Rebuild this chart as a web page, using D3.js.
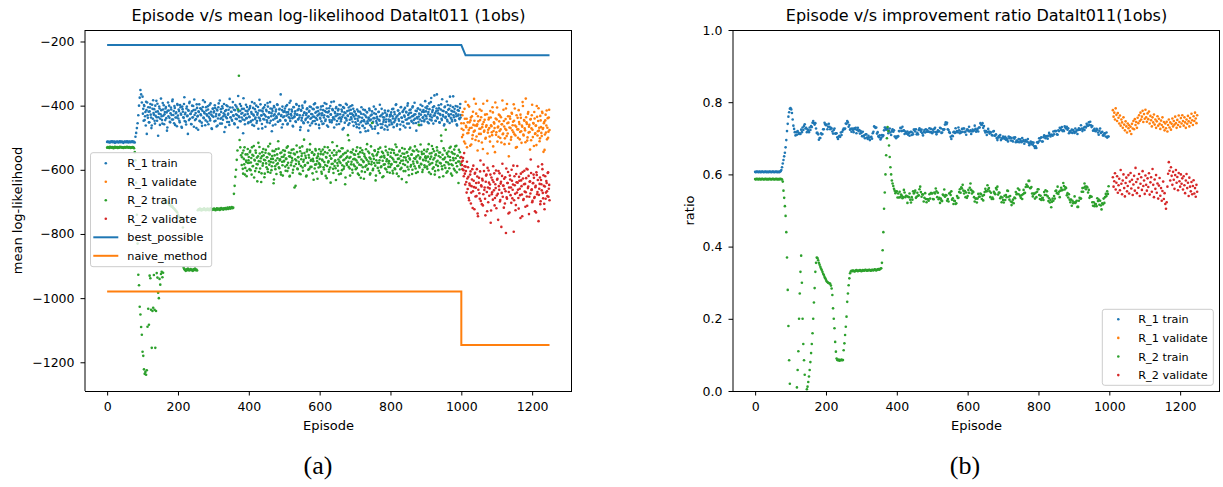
<!DOCTYPE html>
<html><head><meta charset="utf-8">
<script src="https://cdn.jsdelivr.net/npm/d3@7"></script>
<style>
body{margin:0;background:#fff}
svg{display:block}
</style>
</head><body>
<svg id="c" width="1223" height="487"></svg>
<script>
// ---------------- DATA ----------------
const EP_STEP = 2;
const xTicks = [0, 200, 400, 600, 800, 1000, 1200];
const yTicksA = [-1200, -1000, -800, -600, -400, -200];
const yTicksB = [0, 0.2, 0.4, 0.6, 0.8, 1.0];
const seriesNames = ["R_1 train", "R_1 validate", "R_2 train", "R_2 validate"];
const lineNames = ["best_possible", "naive_method"];
const titleA = "Episode v/s mean log-likelihood DataIt011 (1obs)";
const titleB = "Episode v/s improvement ratio DataIt011(1obs)";

// (a) mean log-likelihood. Even episodes from the start, odd episodes in separate arrays.
const trainStartA = 0, validStartA = 1000;
const r1TrainA = [
-513,-512,-514,-513,-515,-512,-513,-511,-514,-513,-512,-516,-513,-514,-512,-513,-515,-513,-511,-514,-513,-512,-514,-516,-513,-512,-513,-514,-511,-513,-515,-512,-513,-514,-512,-513,-511,-514,-513,-515,
-497,-485,-470,-455,-430,-400,-375,-351,-365,-390,
-372,-410,-398,-445,-420,-388,-488,-430,-405,-452,-418,-395,-437,-462,-410,-383,-428,-447,-400,-419,-436,-394,-494,-425,-409,-441,-378,-433,-456,-412,-399,-427,-445,-404,-421,-468,-390,-415,-438,-452,-406,-429,-386,-443,-417,-401,-460,-424,-437,-395,
-431,-412,-447,-398,-425,-466,-403,-419,-438,-374,-427,-450,-409,-433,-488,-416,-392,-441,-425,-458,-400,-436,-414,-381,-445,-423,-470,-407,-432,-418,-396,-449,-427,-411,-463,-404,-437,-420,-389,-446,-415,-431,-402,-458,-424,-440,-393,-428,-473,-410,
-435,-418,-399,-447,-426,-412,-462,-405,-430,-384,-441,-420,-456,-408,-433,-395,-428,-467,-414,-439,-402,-425,-451,-379,-436,-419,-444,-406,-430,-413,-458,-398,-427,-442,-409,-370,-433,-448,-416,-401,-437,-423,-486,-410,-445,-428,-397,-439,-418,-455,
-412,-436,-401,-448,-425,-460,-407,-431,-393,-442,-419,-454,-428,-404,-437,-382,-446,-415,-430,-471,-409,-426,-443,-398,-434,-417,-452,-403,-438,-421,-389,-447,-424,-410,-462,-431,-405,-440,-418,-433,-396,-450,-427,-412,-445,-365,-429,-414,-458,-420,
-433,-409,-447,-421,-398,-456,-427,-412,-440,-385,-431,-418,-463,-404,-436,-425,-449,-395,-428,-414,-442,-401,-430,-467,-416,-438,-407,-452,-423,-390,-445,-429,-411,-437,-478,-419,-403,-441,-426,-455,-410,-434,-396,-448,-422,-439,-406,-431,-417,-460,
-425,-441,-403,-430,-457,-414,-437,-392,-448,-420,-409,-433,-466,-418,-445,-401,-428,-452,-411,-436,-387,-443,-424,-408,-459,-430,-415,-440,-398,-427,-449,-412,-435,-404,-470,-421,-438,-394,-446,-417,-432,-406,-455,-425,-413,-442,-399,-429,-463,-418,
-441,-426,-458,-412,-447,-433,-470,-419,-452,-405,-438,-463,-427,-449,-414,-480,-436,-421,-455,-442,-409,-446,-431,-466,-418,-453,-439,-424,-472,-411,-448,-435,-460,-420,-444,-397,-457,-430,-468,-425,-451,-437,-415,-462,-443,-428,-475,-416,-449,-434,
-446,-421,-458,-433,-410,-452,-427,-440,-396,-463,-431,-415,-447,-424,-459,-404,-438,-420,-451,-412,-435,-468,-419,-443,-400,-429,-456,-414,-437,-422,-450,-406,-432,-445,-391,-427,-454,-417,-440,-409,-434,-461,-413,-428,-448,-401,-436,-420,-444,-386,
-418,-440,-402,-427,-455,-411,-433,-389,-446,-420,-405,-431,-368,-424,-448,-409,-436,-415,-399,-452,-426,-412,-441,-380,-429,-417,-458,-403,-435,-421,-444,-398,-427,-410,-372,-438,-416,-449,-404,-430,-419,-445,-401,-433,-462,-414,-428,-440,-407,-437
];
const r1TrainAOddStart = 101;
const r1TrainAOdd = [
-425,-447,-401,-433,-462,-414,-390,-438,-419,-452,-406,-428,-470,-397,-441,-423,-411,-456,-432,-385,-447,-418,-436,-403,-460,-427,-414,-445,-392,-431,-458,-420,-409,-439,-478,-416,-433,-400,-450,-424,-412,-443,-381,-429,-455,-407,-437,-421,-464,-398,
-440,-417,-452,-405,-428,-469,-411,-436,-395,-448,-422,-459,-403,-431,-414,-445,-388,-426,-457,-418,-437,-401,-466,-429,-413,-442,-396,-434,-475,-420,-447,-408,-430,-453,-416,-383,-439,-424,-461,-405,-427,-450,-412,-435,-398,-446,-419,-471,-432,-409,
-421,-449,-407,-433,-465,-415,-440,-393,-427,-456,-411,-438,-402,-444,-424,-482,-417,-435,-399,-451,-428,-413,-460,-406,-437,-420,-447,-389,-432,-455,-414,-441,-403,-429,-468,-418,-436,-395,-449,-425,-410,-443,-377,-431,-458,-416,-439,-404,-426,-452,
-434,-407,-451,-420,-389,-445,-428,-463,-411,-437,-400,-448,-423,-472,-415,-440,-396,-431,-457,-418,-442,-405,-429,-466,-413,-446,-392,-436,-421,-454,-409,-433,-480,-417,-444,-401,-427,-459,-412,-438,-398,-450,-425,-410,-447,-432,-468,-403,-436,-419,
-417,-445,-402,-431,-459,-420,-436,-391,-448,-426,-412,-439,-465,-405,-433,-418,-451,-397,-428,-443,-410,-437,-476,-414,-446,-400,-430,-455,-421,-387,-441,-424,-408,-452,-433,-416,-462,-404,-438,-427,-449,-411,-435,-393,-457,-419,-444,-406,-428,-470,
-438,-412,-449,-424,-401,-456,-430,-417,-443,-395,-462,-421,-435,-408,-451,-427,-389,-446,-414,-439,-468,-420,-433,-404,-448,-426,-411,-457,-437,-399,-442,-418,-474,-429,-407,-453,-423,-440,-397,-431,-460,-415,-444,-402,-436,-425,-450,-410,-434,-419,
-452,-430,-467,-441,-418,-459,-436,-483,-425,-448,-463,-412,-445,-470,-431,-456,-420,-449,-478,-437,-414,-461,-443,-428,-472,-450,-403,-439,-465,-426,-454,-441,-486,-419,-447,-433,-469,-410,-458,-436,-445,-474,-422,-451,-432,-466,-417,-443,-460,-429,
-428,-453,-411,-440,-467,-420,-446,-398,-435,-458,-415,-442,-426,-474,-405,-437,-450,-418,-463,-431,-407,-444,-421,-456,-393,-439,-424,-469,-412,-447,-433,-402,-455,-428,-441,-416,-478,-436,-409,-451,-425,-443,-397,-460,-419,-438,-414,-449,-430,-406,
-433,-409,-451,-420,-393,-443,-428,-376,-437,-414,-456,-402,-431,-447,-418,-365,-440,-424,-408,-453,-429,-396,-445,-416,-434,-462,-405,-438,-421,-387,-449,-413,-432,-454,-400,-427,-443,-418,-371,-436,-410,-447,-425,-458,-403,-431,-416,-442,-395,-429
];
const r1ValidA = [
-455,-498,-420,-476,-512,-441,-388,-467,-530,-452,-485,-403,-470,-446,-521,-433,-492,-460,-379,-478,
-507,-425,-463,-540,-449,-488,-412,-472,-436,-515,-458,-394,-481,-444,-503,-466,-427,-549,-475,-438,
-496,-417,-461,-483,-405,-527,-452,-470,-390,-491,-443,-512,-465,-428,-479,-501,-436,-458,-384,-487,
-448,-520,-472,-409,-495,-455,-433,-558,-468,-441,-506,-422,-477,-450,-396,-489,-462,-531,-430,-474,
-500,-414,-457,-482,-438,-516,-466,-401,-493,-447,-477,-378,-452,-509,-425,-484,-460,-537,-442,-471,
-397,-498,-456,-420,-488,-463,-523,-435,-480,-408,-469,-502,-446,-485,-419,-473,-544,-451,-490,-428,
-462,-505,-439,-481,-413
];
const r1ValidAOddStart = 1001;
const r1ValidAOdd = [
-472,-430,-491,-455,-410,-518,-463,-441,-486,-398,-476,-452,-525,-437,-469,-503,-419,-481,-447,-462,
-394,-496,-458,-433,-510,-472,-445,-488,-416,-467,-535,-451,-478,-428,-500,-461,-385,-484,-443,-470,
-512,-437,-464,-492,-421,-479,-456,-545,-440,-483,-406,-468,-497,-449,-431,-474,-515,-458,-489,-413,
-465,-502,-442,-476,-395,-487,-453,-519,-434,-470,-498,-425,-461,-483,-447,-409,-493,-466,-529,-438,
-474,-451,-505,-428,-480,-462,-389,-490,-445,-471,-514,-436,-457,-499,-420,-466,-482,-443,-508,-430,
-475,-454,-526,-440,-486,-462,-401,-493,-448,-478,-511,-432,-467,-495,-423,-470,-455,-538,-446,-484,
-415,-469,-500,-437,-476
];
const r2TrainA = [
-531,-529,-530,-532,-528,-530,-531,-529,-530,-533,-530,-528,-531,-530,-529,-532,-530,-531,-528,-530,-529,-531,-530,-532,-530,-529,-531,-530,-528,-530,-531,-529,-530,-532,-530,-531,-529,-530,-533,
-545,-570,-640,-740,-830,-927,-960,-1027,-1051,-1090,-1114,
-1167,-1180,-1222,-1236,-1230,-1239,-1225,-1089,-1033,-1083,-930,-938,-1036,-1155,-1040,-1030,-928,-1036,-1155,-1040,-922,-936,-983,-1000,-940,-958,-925,-918,-935,-921,
-705,-690,-700,-695,-698,-702,-700,-705,-710,-708,-712,-715,-713,-718,-720,-722,-725,-728,-730,-733,-740,-745,-748,-750,-752,-750,-755,-780,
-905,-910,-912,-915,-910,-913,-908,-912,-914,-911,-909,-913,-912,-915,-910,-912,-908,-913,-911,-914,
-726,-723,-725,-721,-724,-727,-722,-725,-723,-720,-724,-726,-722,-725,-721,-723,-726,-724,-720,-723,-725,-722,-724,-721,-723,-726,-722,-720,-724,-723,-721,-725,-722,-719,-723,-721,-724,-720,-722,-719,-723,-721,-718,-722,-720,-717,-721,-719,-716,-720,-718,
-675,-650,-622,-600,-569,-540,-413,-307,-507,-530,-555,
-585,-548,-612,-566,-530,-594,-571,-620,-552,-579,
-560,-598,-541,-577,-615,-553,-588,-526,-569,-604,-547,-582,-636,-558,-573,-529,-596,-564,-611,-545,-580,-555,-623,-570,-538,-592,-561,-607,-549,-584,-519,-576,-601,-557,-566,-642,-542,-589,-571,-613,-552,-580,-534,-595,-567,-608,-546,-575,-618,-559,
-572,-541,-603,-566,-585,-527,-594,-558,-619,-548,-577,-563,-609,-536,-589,-552,-650,-571,-545,-598,-560,-582,-531,-614,-567,-549,-593,-575,-506,-587,-556,-621,-543,-578,-600,-562,-538,-591,-569,-547,-611,-573,-554,-596,-535,-583,-563,-628,-550,-580,
-566,-590,-543,-612,-571,-552,-599,-529,-585,-560,-626,-548,-577,-606,-539,-593,-565,-582,-514,-597,-555,-588,-570,-632,-546,-579,-603,-541,-574,-561,-612,-533,-586,-552,-597,-568,-645,-547,-580,-559,-492,-591,-563,-618,-545,-575,-600,-537,-584,-566,
-553,-598,-571,-530,-612,-560,-584,-545,-625,-568,-539,-592,-576,-551,-607,-563,-586,-520,-597,-574,-548,-615,-566,-583,-454,-601,-557,-579,-541,-633,-570,-552,-594,-535,-578,-610,-561,-589,-544,-572,-620,-556,-583,-528,-599,-567,-546,-591,-573,-609,
-559,-584,-537,-603,-568,-548,-595,-521,-576,-612,-553,-587,-565,-540,-598,-572,-629,-549,-582,-561,-535,-604,-570,-546,-591,-557,-617,-564,-531,-585,-552,-600,-574,-542,-589,-566,-610,-538,-578,-555,-460,-593,-561,-581,-544,-607,-569,-550,-586,-562,
-571,-543,-597,-559,-520,-584,-566,-613,-548,-579,-535,-592,-563,-604,-552,-575,-540,-588,-557,-623,-546,-580,-510,-598,-567,-533,-586,-562,-475,-609,-551,-577,-543,-595,-560,-528,-583,-618,-549,-570,-537,-602,-564,-525,-589,-556,-641,-574,-545,-581
];
const r2TrainAOddStart = 381;
const r2TrainAOdd = [
-561,-597,-540,-583,-615,-552,-576,-603,-535,-570,
-578,-545,-601,-563,-530,-589,-556,-624,-571,-540,-595,-562,-583,-516,-607,-549,-574,-638,-558,-587,-535,-569,-612,-547,-580,-561,-598,-527,-573,-552,-609,-566,-589,-541,-577,-630,-555,-598,-536,-583,-564,-511,-592,-571,-548,-615,-560,-586,-539,-574,
-553,-590,-565,-531,-604,-578,-546,-621,-559,-586,-538,-571,-600,-549,-655,-567,-582,-524,-596,-561,-575,-612,-542,-588,-557,-527,-603,-569,-548,-585,-563,-618,-537,-579,-554,-597,-520,-572,-591,-545,-566,-631,-552,-584,-540,-606,-573,-558,-593,-536,
-584,-551,-606,-568,-537,-592,-576,-545,-619,-562,-588,-530,-573,-599,-556,-640,-565,-547,-581,-610,-539,-574,-595,-553,-526,-587,-568,-614,-542,-579,-558,-601,-533,-570,-590,-548,-624,-563,-585,-541,-575,-508,-596,-560,-583,-546,-609,-567,-552,-589,
-568,-541,-594,-577,-551,-616,-560,-532,-586,-605,-547,-573,-628,-558,-590,-536,-569,-600,-543,-581,-562,-611,-527,-575,-552,-597,-566,-539,-587,-618,-555,-578,-545,-603,-570,-531,-592,-559,-623,-548,-584,-562,-596,-540,-573,-607,-553,-580,-535,-591,
-547,-582,-563,-611,-539,-575,-598,-554,-529,-588,-566,-620,-543,-579,-557,-594,-532,-571,-604,-550,-585,-562,-639,-545,-576,-599,-536,-568,-590,-553,-613,-540,-581,-564,-527,-596,-559,-574,-607,-543,-588,-565,-521,-583,-551,-600,-570,-538,-592,-558,
-563,-590,-536,-575,-608,-549,-581,-559,-526,-597,-568,-542,-615,-555,-584,-530,-572,-601,-546,-578,-561,-493,-589,-553,-620,-567,-540,-594,-576,-548,-605,-558,-583,-532,-570,-612,-545,-586,-563,-597,-551,-527,-579,-608,-556,-574,-538,-599,-562,-585
];
const r2ValidA = [
-560,-585,-572,-601,-548,-612,-590,-638,-575,-660,-622,-695,-648,-605,-671,-630,-719,-587,-654,-612,
-683,-641,-598,-736,-662,-625,-690,-571,-648,-707,-633,-676,-604,-655,-742,-618,-669,-594,-701,-640,
-658,-615,-727,-676,-632,-589,-664,-711,-645,-602,-680,-628,-756,-651,-611,-694,-637,-672,-581,-649,
-718,-660,-623,-797,-686,-641,-607,-669,-733,-630,-655,-600,-689,-646,-793,-620,-675,-710,-639,-588,
-662,-721,-634,-679,-612,-651,-745,-627,-691,-603,-644,-670,-597,-712,-657,-619,-684,-636,-568,-663,
-701,-642,-615,-688,-729,-650,-608,-676,-632,-760,-659,-624,-698,-645,-583,-672,-617,-706,-652,-690,
-635,-667,-610,-684,-647
];
const r2ValidAOddStart = 1001;
const r2ValidAOdd = [
-575,-598,-563,-620,-589,-646,-604,-671,-627,-592,-688,-643,-615,-705,-651,-598,-667,-634,-723,-609,
-656,-682,-621,-745,-640,-673,-605,-697,-652,-628,-711,-584,-663,-690,-637,-615,-729,-655,-602,-681,
-646,-765,-624,-670,-693,-638,-611,-688,-657,-720,-631,-675,-604,-662,-699,-643,-778,-619,-684,-650,
-628,-705,-667,-596,-690,-641,-736,-655,-618,-679,-703,-634,-662,-587,-695,-648,-726,-613,-671,-640,
-688,-622,-659,-750,-633,-677,-607,-694,-645,-668,-715,-626,-683,-599,-652,-738,-637,-674,-610,-661,
-697,-641,-625,-685,-654,-733,-616,-669,-590,-678,-644,-707,-632,-664,-598,-689,-650,-723,-620,-671,
-641,-682,-608,-659,-695
];
const bestEp = [0, 1000, 1012, 1249];
const bestVals = [-211, -211, -243, -243];
const naiveEp = [0, 1000, 1000, 1249];
const naiveVals = [-979, -979, -1146, -1146];

// (b) improvement ratio, train from episode 0, validate from episode 1010, every 2 episodes
const trainStartB = 0, validStartB = 1010;
const r1TrainB = [
.607,.606,.608,.607,.607,.606,.608,.607,.606,.607,.608,.607,.606,.607,.607,.608,.606,.607,.607,.606,.608,.607,.607,.606,.607,.608,.607,.606,.607,.607,.608,.606,.607,.607,.606,.608,
.609,.612,.620,.630,.640,.650,.660,.675,.695,.720,.740,.760,.772,.782,
.784,.780,.770,.752,.735,.726,.717,.708,.717,.710,.720,.716,.712,.714,.712,.724,.717,.730,.723,.734,.739,.727,.729,.717,.725,
.722,.717,.730,.723,.734,.731,.743,.748,.742,.738,.742,.727,.715,.715,.711,.696,.701,.701,.714,.711,.712,.725,.725,.743,.739,
.736,.738,.725,.732,.740,.732,.725,.729,.727,.719,.713,.723,.727,.713,.713,.714,.703,.698,.705,.707,.704,.716,.709,.718,.723,
.727,.725,.727,.741,.740,.748,.744,.732,.737,.724,.726,.718,.727,.723,.717,.728,.725,.729,.714,.723,.729,.720,.723,.713,.720,
.715,.706,.718,.705,.708,.700,.711,.711,.702,.698,.707,.702,.695,.703,.704,.699,.714,.718,.733,.731,.729,.730,.713,.717,.706,
.703,.708,.697,.701,.709,.705,.708,.722,.730,.729,.724,.727,.726,.714,.721,.727,.716,.709,.720,.725,.718,.722,.705,.704,.700,
.705,.704,.706,.720,.720,.729,.728,.720,.732,.721,.722,.712,.719,.715,.713,.719,.710,.715,.707,.717,.718,.709,.716,.711,.724,
.724,.719,.725,.711,.715,.711,.723,.728,.723,.718,.724,.714,.708,.718,.723,.716,.725,.718,.723,.718,.719,.728,.717,.726,.717,
.714,.724,.718,.726,.729,.717,.711,.717,.722,.720,.719,.729,.728,.715,.716,.725,.723,.725,.738,.744,.739,.743,.725,.723,.717,
.715,.704,.698,.707,.706,.717,.718,.715,.728,.717,.720,.717,.730,.722,.714,.719,.716,.726,.718,.727,.727,.717,.719,.710,.724,
.724,.720,.732,.719,.722,.712,.719,.724,.720,.722,.735,.726,.718,.722,.726,.719,.730,.730,.742,.738,.737,.742,.729,.734,.721,
.716,.720,.709,.717,.726,.719,.713,.717,.716,.709,.708,.719,.720,.707,.708,.711,.701,.695,.702,.706,.703,.709,.695,.699,.700,
.705,.701,.699,.704,.696,.700,.695,.691,.705,.700,.703,.694,.701,.693,.691,.702,.699,.703,.689,.693,.694,.690,.698,.689,.697,
.693,.689,.701,.692,.695,.685,.691,.695,.691,.691,.698,.688,.681,.686,.691,.684,.689,.682,.688,.678,.673,.678,.673,.689,.687,
.690,.700,.694,.701,.703,.691,.691,.703,.708,.706,.700,.705,.706,.699,.707,.715,.710,.705,.710,.710,.707,.719,.711,.720,.720,
.720,.711,.710,.722,.720,.729,.728,.723,.731,.720,.723,.720,.733,.730,.727,.732,.724,.728,.714,.719,.720,.716,.724,.715,.723,
.719,.715,.727,.718,.722,.712,.723,.728,.724,.724,.736,.727,.720,.725,.730,.723,.732,.730,.740,.735,.735,.744,.737,.746,.736,
.731,.734,.721,.723,.726,.720,.720,.726,.724,.716,.710,.721,.727,.715,.716,.718,.708,.708,.714,.713,.705,.716,.702,.705,.705
];
const r2TrainB = [
.587,.586,.588,.587,.587,.586,.588,.587,.586,.587,.588,.587,.586,.587,.587,.588,.586,.587,.587,.586,.588,.587,.587,.586,.587,.588,.587,.586,.587,.587,.588,.586,.587,.587,.586,.588,.587,.587,.586,
.580,.555,.535,.512,.485,.440,.370,.280,.180,.085,.020,
-.04,-.08,-.12,-.15,-.17,-.16,-.12,-.08,-.04,.01,
.058,.110,.200,.270,.330,.375,.300,.200,.130,.085,.045,-.02,
-.005,.005,.012,.025,.040,.058,.080,.105,.130,.160,.200,.245,.285,.330,.355,.370,
.368,.362,.355,.350,.344,.339,.335,.330,.325,.321,.316,.312,.308,.304,.302,.300,.299,.298,.297,.292,
.284,.266,.229,.200,.174,.136,.109,.090,
.086,.085,.087,.084,.086,.085,.087,.085,.086,
.113,.132,.155,.178,.206,.247,.270,.293,.312,.326,
.331,.333,.332,.334,.333,.331,.332,.334,.335,.333,.332,.334,.333,.335,.334,.332,.333,.335,.334,.333,.335,.336,.334,.333,.335,.334,.336,.335,.333,.334,.336,.335,.334,.336,.337,.335,.334,.336,.337,.338,.336,.337,.339,.340,
.355,.390,.440,.505,.550,.600,.653,.700,.731,
.720,.680,.648,.620,.600,.583,.575,.568,.560,.555,.548,.552,
.553,.536,.547,.536,.552,.537,.544,.541,.534,.537,.557,.550,.537,.541,.540,.521,.538,.537,.547,.530,.522,.537,.530,.553,.547,
.550,.555,.535,.538,.549,.541,.542,.559,.566,.551,.538,.545,.544,.525,.535,.548,.532,.523,.531,.531,.527,.545,.533,.548,.548,
.547,.532,.531,.550,.547,.561,.553,.537,.549,.531,.535,.521,.533,.528,.526,.544,.542,.558,.538,.543,.542,.527,.532,.525,.547,
.549,.543,.553,.530,.534,.518,.527,.526,.518,.520,.540,.535,.535,.551,.559,.549,.564,.561,.571,.555,.547,.554,.537,.550,.535,
.540,.557,.549,.563,.575,.557,.547,.553,.551,.537,.525,.533,.533,.522,.533,.546,.538,.538,.547,.545,.532,.540,.528,.543,.551,
.560,.554,.553,.570,.558,.562,.553,.537,.549,.532,.536,.532,.552,.548,.545,.562,.558,.566,.544,.550,.549,.534,.538,.523,.536,
.529,.522,.541,.529,.543,.537,.555,.554,.538,.530,.540,.525,.515,.523,.530,.520,.536,.534,.551,.545,.546,.561,.545,.557,.541,
.535,.542,.532,.545,.557,.548,.549,.565,.572,.568,.566,.582,.582,.562,.562,.565,.547,.539,.547,.546,.533,.549,.537,.552,.559,
.559,.543,.532,.541,.529,.534,.535,.529,.551,.543,.556,.543,.553,.539,.526,.534,.522,.529,.509,.524,.533,.527,.540,.533,.554,
.555,.548,.566,.546,.552,.537,.555,.563,.556,.557,.576,.568,.558,.564,.562,.542,.548,.536,.545,.530,.523,.530,.513,.527,.520,
.523,.539,.521,.524,.527,.510,.510,.527,.535,.533,.533,.552,.562,.552,.563,.575,.566,.559,.566,.564,.550,.557,.535,.540,.538,
.538,.523,.513,.523,.512,.518,.518,.512,.534,.526,.530,.516,.527,.514,.503,.520,.517,.533,.521,.537,.546,.540,.553,.546,.567
];
const r1ValidB = [
.778,.760,.771,.752,.783,.765,.748,.770,.757,.741,.763,.735,.752,.744,.729,.758,.738,.722,.747,.733,.716,.741,.728,.736,.720,
.732,.712,.740,.727,.748,.725,.753,.737,.745,.729,.757,.742,.764,.748,.771,.752,.760,.776,.745,.767,.754,.779,.758,.746,.769,
.753,.774,.741,.762,.750,.733,.758,.744,.766,.738,.752,.729,.747,.761,.735,.754,.740,.726,.749,.737,.758,.731,.745,.722,.741,
.728,.746,.719,.737,.752,.730,.744,.724,.740,.755,.733,.748,.738,.760,.742,.729,.751,.737,.763,.745,.732,.756,.741,.764,.748,
.735,.758,.744,.729,.752,.740,.762,.747,.733,.756,.743,.768,.750,.737,.761,.748,.771,.755,.742,.764
];
const r2ValidB = [
.592,.566,.581,.603,.558,.577,.595,.549,.570,.588,.556,.612,.574,.545,.583,.600,.562,.539,.576,.591,.553,.568,.598,.547,.580,
.604,.561,.585,.543,.572,.596,.555,.618,.579,.548,.587,.563,.601,.540,.574,.592,.557,.609,.568,.583,.546,.597,.571,.555,.589,
.565,.603,.544,.578,.592,.552,.615,.571,.537,.586,.560,.598,.549,.575,.533,.569,.590,.541,.562,.527,.554,.580,.532,.548,.518,
.505,.523,.566,.602,.634,.610,.583,.620,.596,.571,.607,.585,.560,.598,.612,.577,.593,.556,.604,.581,.566,.600,.574,.589,.558,
.595,.570,.548,.583,.601,.562,.577,.540,.591,.566,.553,.579,.545,.568,.584,.547,.562,.538,.571,.552
];

// ---------------- DRAWING ----------------
const C = {blue:"#1f77b4", orange:"#ff7f0e", green:"#2ca02c", red:"#d62728"};
const SANS = "DejaVu Sans, sans-serif";
const svg = d3.select("#c");
const TOP = 30, BOT = 391;

function toPts(vals, start){ return vals.map((v,i)=>({ep:start+i*EP_STEP, v:v})); }

function panel(o){
  const g = svg.append("g");
  const x = d3.scaleLinear().domain([-62.5, 1312.5]).range([o.x0, o.x1]);
  const y = d3.scaleLinear().domain(o.yDomain).range([BOT, TOP]);
  svg.append("clipPath").attr("id", o.id).append("rect")
    .attr("x", o.x0).attr("y", TOP).attr("width", o.x1-o.x0).attr("height", BOT-TOP);
  const plot = g.append("g").attr("clip-path", `url(#${o.id})`);
  o.series.forEach(s=>{
    plot.append("g").selectAll("circle").data(toPts(s.vals, s.start)).join("circle")
      .attr("cx", d=>x(d.ep)).attr("cy", d=>y(d.v)).attr("r", 1.3).attr("fill", s.color);
  });
  (o.lines||[]).forEach(l=>{
    plot.append("path").datum(l.ep.map((e,i)=>[e, l.vals[i]]))
      .attr("d", d3.line().x(d=>x(d[0])).y(d=>y(d[1])))
      .attr("fill","none").attr("stroke", l.color).attr("stroke-width", 2);
  });
  const ax = g.append("g").attr("transform", `translate(0,${BOT})`)
    .call(d3.axisBottom(x).tickValues(xTicks).tickSize(4.5).tickPadding(7).tickFormat(d3.format("d")));
  const ay = g.append("g").attr("transform", `translate(${o.x0},0)`)
    .call(d3.axisLeft(y).tickValues(o.yTicks).tickSize(4.5).tickPadding(6).tickFormat(o.yFmt));
  [ax, ay].forEach(a=>{
    a.select(".domain").remove();
    a.selectAll("line").attr("stroke","#000").attr("stroke-width",1);
    a.selectAll("text").style("font-size","12.5px").style("fill","#000").style("font-family",SANS);
  });
  const fr = (x1,y1,x2,y2)=>g.append("line").attr("x1",x1).attr("y1",y1).attr("x2",x2).attr("y2",y2).attr("stroke","#000").attr("stroke-width",1);
  fr(o.x0,TOP,o.x0,BOT); fr(o.x1-0.5,TOP,o.x1-0.5,BOT);
  fr(o.x0,TOP+0.5,o.x1,TOP+0.5); fr(o.x0,BOT+0.5,o.x1,BOT+0.5);
  const txt = (sel,size,fam)=>sel.style("font-size",size).style("font-family",fam||SANS).style("fill","#000");
  const cx = (o.x0+o.x1)/2;
  txt(g.append("text").attr("x", cx).attr("y", 21).attr("text-anchor","middle").text(o.title), "16px");
  txt(g.append("text").attr("x", cx).attr("y", 429.5).attr("text-anchor","middle").text("Episode"), "13px");
  txt(g.append("text").attr("transform", `translate(${o.ylabX},${(TOP+BOT)/2}) rotate(-90)`)
    .attr("text-anchor","middle").text(o.ylabel), "13px");
  txt(g.append("text").attr("x", o.capX).attr("y", 474).attr("text-anchor","middle").text(o.caption),
    "26px", "Liberation Serif, DejaVu Serif, serif");
  const L = o.legend;
  const lg = g.append("g");
  lg.append("rect").attr("x",L.x).attr("y",L.y).attr("width",L.w).attr("height",L.h).attr("rx",2.5)
    .attr("fill","#fff").attr("fill-opacity",0.8).attr("stroke","#cccccc").attr("stroke-width",1);
  L.items.forEach((it,i)=>{
    const yy = L.y0 + i*L.dy;
    if (it.type==="dot") lg.append("circle").attr("cx", L.hx+12.5).attr("cy", yy).attr("r", 1.3).attr("fill", it.color);
    else lg.append("line").attr("x1", L.hx).attr("x2", L.hx+25).attr("y1", yy).attr("y2", yy).attr("stroke", it.color).attr("stroke-width", 2);
    txt(lg.append("text").attr("x", L.tx).attr("y", yy+4).text(it.name), "11.25px");
  });
}

panel({
  id:"clipA", x0:85, x1:572, yDomain:[-1289.5,-164.2], yTicks:yTicksA, yFmt:d3.format("d"),
  title:titleA, ylabel:"mean log-likelihood", ylabX:21.5, caption:"(a)", capX:318,
  series:[
    {vals:r1TrainA, start:trainStartA, color:C.blue},
    {vals:r1TrainAOdd, start:r1TrainAOddStart, color:C.blue},
    {vals:r1ValidA, start:validStartA, color:C.orange},
    {vals:r1ValidAOdd, start:r1ValidAOddStart, color:C.orange},
    {vals:r2TrainA, start:trainStartA, color:C.green},
    {vals:r2TrainAOdd, start:r2TrainAOddStart, color:C.green},
    {vals:r2ValidA, start:validStartA, color:C.red},
    {vals:r2ValidAOdd, start:r2ValidAOddStart, color:C.red}
  ],
  lines:[
    {ep:bestEp, vals:bestVals, color:C.blue},
    {ep:naiveEp, vals:naiveVals, color:C.orange}
  ],
  legend:{x:90.5, y:152.7, w:121.2, h:114, y0:163.3, dy:18.5, hx:93.3, tx:127.3,
    items:[
      {type:"dot", color:C.blue, name:seriesNames[0]},
      {type:"dot", color:C.orange, name:seriesNames[1]},
      {type:"dot", color:C.green, name:seriesNames[2]},
      {type:"dot", color:C.red, name:seriesNames[3]},
      {type:"line", color:C.blue, name:lineNames[0]},
      {type:"line", color:C.orange, name:lineNames[1]}
    ]}
});

panel({
  id:"clipB", x0:733, x1:1220, yDomain:[0,1], yTicks:yTicksB, yFmt:d3.format(".1f"),
  title:titleB, ylabel:"ratio", ylabX:693.5, caption:"(b)", capX:965,
  series:[
    {vals:r1TrainB, start:trainStartB, color:C.blue},
    {vals:r1ValidB, start:validStartB, color:C.orange},
    {vals:r2TrainB, start:trainStartB, color:C.green},
    {vals:r2ValidB, start:validStartB, color:C.red}
  ],
  legend:{x:1102.3, y:309.3, w:111, h:76, y0:319.3, dy:18.6, hx:1105.8, tx:1138.3,
    items:[
      {type:"dot", color:C.blue, name:seriesNames[0]},
      {type:"dot", color:C.orange, name:seriesNames[1]},
      {type:"dot", color:C.green, name:seriesNames[2]},
      {type:"dot", color:C.red, name:seriesNames[3]}
    ]}
});
</script>
</body></html>
